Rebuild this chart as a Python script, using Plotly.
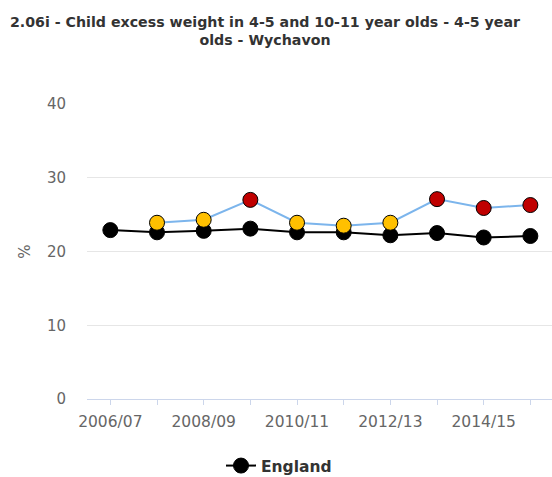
import plotly.graph_objects as go

categories = ["2006/07", "2007/08", "2008/09", "2009/10", "2010/11",
              "2011/12", "2012/13", "2013/14", "2014/15", "2015/16"]
england = [22.9, 22.6, 22.8, 23.1, 22.6, 22.6, 22.2, 22.5, 21.9, 22.1]
wychavon = [None, 23.9, 24.3, 27.0, 23.9, 23.5, 23.9, 27.1, 25.9, 26.3]
wychavon_significance = [None, "similar", "similar", "worse", "similar",
                         "similar", "similar", "worse", "worse", "worse"]
x_tick_labels = ["2006/07", "", "2008/09", "", "2010/11", "",
                 "2012/13", "", "2014/15", ""]
y_ticks = [0, 10, 20, 30, 40]

sig_colors = {"similar": "#FFC000", "worse": "#C00000", None: "rgba(0,0,0,0)"}
marker_colors = [sig_colors[s] for s in wychavon_significance]

FONT = "DejaVu Sans, Verdana, sans-serif"
W, H = 552, 477

fig = go.Figure()
fig.add_trace(go.Scatter(
    x=categories, y=england, name="England", mode="lines+markers",
    line=dict(color="#000000", width=2),
    marker=dict(color="#000000", size=15, line=dict(color="#000000", width=1)),
    showlegend=True,
))
fig.add_trace(go.Scatter(
    x=categories, y=wychavon, name="Wychavon", mode="lines+markers",
    line=dict(color="#7CB5EC", width=2),
    marker=dict(color=marker_colors, size=15, line=dict(color="#000000", width=1)),
    showlegend=False, connectgaps=False,
))

left, right, top, bottom = 87, 0, 104, 78
plot_w = W - left - right
spacing = 46.67
span = plot_w / spacing

fig.update_layout(
    width=W, height=H,
    margin=dict(l=left, r=right, t=top, b=bottom, autoexpand=False),
    paper_bgcolor="white", plot_bgcolor="white",
    font=dict(family=FONT, color="#666666", size=15),
    title=dict(
        text="2.06i - Child excess weight in 4-5 and 10-11 year olds - 4-5 year<br>olds - Wychavon",
        font=dict(family=FONT, size=14.2, color="#333333", weight="bold"),
        xref="container", x=265 / W, xanchor="center",
        yref="container", y=1 - 27 / H, yanchor="top",
    ),
    xaxis=dict(
        type="category", range=[-0.5, -0.5 + span],
        tickmode="array", tickvals=categories, ticktext=x_tick_labels,
        showgrid=False, showline=True, linecolor="#CCD6EB", linewidth=1,
        ticks="outside", ticklen=5, tickcolor="#CCD6EB",
        tickfont=dict(size=15.5, color="#666666"),
        ticklabelstandoff=3, zeroline=False,
    ),
    yaxis=dict(
        range=[0, 40], tickvals=y_ticks, showgrid=True, gridcolor="#E6E6E6",
        gridwidth=1, zeroline=False, showline=False,
        tickfont=dict(size=15, color="#666666"), ticklabelstandoff=20,
        title=dict(text="%", font=dict(size=15, color="#666666"), standoff=12),
    ),
    legend=dict(
        orientation="h", xref="container", yref="container",
        x=221 / W, xanchor="left", y=(H - 466) / H, yanchor="middle",
        font=dict(family=FONT, size=15.5, color="#333333", weight="bold"),
        bgcolor="rgba(0,0,0,0)",
    ),
    showlegend=True,
)

fig.write_html(
    "out.html",
    config={"displayModeBar": False},
    post_script="document.body.style.margin='0';document.body.style.overflow='hidden';",
)
